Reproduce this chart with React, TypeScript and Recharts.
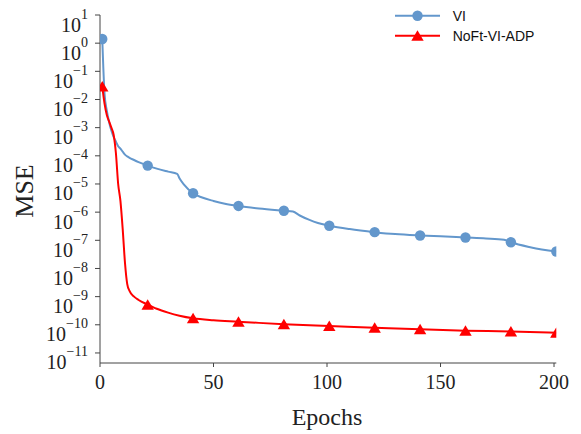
import React from 'react';
import { LineChart, Line, XAxis, YAxis, Legend, Label } from 'recharts';

// Epochs and MSE values
const viEpochs = [1, 2, 3, 4, 5, 6, 7, 8, 9, 10, 11, 12, 13, 15, 17, 21, 25, 30, 34, 35, 37, 41, 45, 50, 55, 61, 70, 81, 85, 88, 92, 96, 101, 110, 121, 130, 141, 150, 161, 170, 178, 181, 190, 201];
const viMse = [1.4, 1.6e-2, 4.0e-3, 1.6e-3, 7.9e-4, 4.7e-4, 3.2e-4, 2.2e-4, 1.8e-4, 1.4e-4, 1.1e-4, 9.5e-5, 8.5e-5, 7.1e-5, 6.0e-5, 4.5e-5, 3.5e-5, 2.75e-5, 2.3e-5, 1.6e-5, 9.5e-6, 4.7e-6, 3.3e-6, 2.5e-6, 2.0e-6, 1.66e-6, 1.35e-6, 1.12e-6, 1.05e-6, 7.6e-7, 5.4e-7, 4.1e-7, 3.3e-7, 2.5e-7, 1.95e-7, 1.66e-7, 1.48e-7, 1.38e-7, 1.26e-7, 1.17e-7, 1.05e-7, 8.5e-8, 5.6e-8, 4.0e-8];

const adpEpochs = [1, 2, 3, 4, 5, 6, 7, 8, 9, 10, 11, 12, 13, 15, 17, 21, 25, 30, 35, 41, 50, 61, 70, 81, 101, 121, 141, 161, 181, 201];
const adpMse = [2.9e-2, 7.1e-3, 2.8e-3, 1.66e-3, 1.0e-3, 5.6e-4, 1.26e-4, 1.0e-5, 2.5e-6, 2.5e-7, 1.6e-8, 2.8e-9, 1.6e-9, 1.0e-9, 7.6e-10, 5.2e-10, 3.7e-10, 2.7e-10, 2.1e-10, 1.7e-10, 1.45e-10, 1.29e-10, 1.17e-10, 1.05e-10, 9.1e-11, 7.9e-11, 6.9e-11, 6.2e-11, 5.8e-11, 5.2e-11];

const markerEpochs = [1, 21, 41, 61, 81, 101, 121, 141, 161, 181, 201];
const xTicks = [0, 50, 100, 150, 200];
const yTickExponents = [1, 0, -1, -2, -3, -4, -5, -6, -7, -8, -9, -10, -11];
const seriesNames = ['VI', 'NoFt-VI-ADP'];

const BLUE = '#6397CC';
const RED = '#FF0000';
const AXIS = '#444444';
const SERIF = '"Liberation Serif", "Times New Roman", serif';
const SANS = '"Liberation Sans", Arial, sans-serif';

const viData = viEpochs.map((e, i) => ({ epoch: e, mse: viMse[i] }));
const adpData = adpEpochs.map((e, i) => ({ epoch: e, mse: adpMse[i] }));
const yTicks = yTickExponents.map((p) => Math.pow(10, p));

const YTick = (props: any) => {
  const { x, y, payload } = props;
  const exp = Math.round(Math.log10(payload.value));
  const s = exp < 0 ? '\u2212' + Math.abs(exp) : String(exp);
  return (
    <text x={x} y={y + 16.5} textAnchor="end" fontFamily={SERIF} fontSize={20} fill="#222">
      <tspan>10</tspan>
      <tspan dy={-13} fontSize={14}>{s}</tspan>
    </text>
  );
};

const XTick = (props: any) => {
  const { x, y, payload } = props;
  return (
    <text x={x} y={y + 21.5} textAnchor="middle" fontFamily={SERIF} fontSize={20} fill="#222">
      {payload.value}
    </text>
  );
};

const CircleDot = (props: any) => {
  const { cx, cy, payload, index } = props;
  if (!markerEpochs.includes(payload.epoch)) return <g key={`c${index}`} />;
  return <circle key={`c${index}`} cx={cx} cy={cy} r={5.2} fill={BLUE} stroke="none" />;
};

const TriDot = (props: any) => {
  const { cx, cy, payload, index } = props;
  if (!markerEpochs.includes(payload.epoch)) return <g key={`t${index}`} />;
  return (
    <polygon
      key={`t${index}`}
      points={`${cx},${cy - 5.5} ${cx - 6.2},${cy + 5} ${cx + 6.2},${cy + 5}`}
      fill={RED}
      stroke="none"
    />
  );
};

const LegendContent = () => (
  <svg width={195} height={45} style={{ display: 'block' }}>
    <line x1={17} y1={7.7} x2={62} y2={7.7} stroke={BLUE} strokeWidth={2} />
    <circle cx={39.5} cy={7.7} r={5.2} fill={BLUE} />
    <text x={74.7} y={12.7} fontFamily={SANS} fontSize={14} fill="#111">{seriesNames[0]}</text>
    <line x1={17} y1={27.7} x2={62} y2={27.7} stroke={RED} strokeWidth={2} />
    <polygon points={`39.5,22.2 33.3,32.7 45.7,32.7`} fill={RED} />
    <text x={74.7} y={32.7} fontFamily={SANS} fontSize={14} fill="#111">{seriesNames[1]}</text>
  </svg>
);

export default function App() {
  return (
    <LineChart width={565} height={426} margin={{ top: 7, right: 16.7, left: 0, bottom: 0 }}>
      <XAxis
        dataKey="epoch"
        type="number"
        domain={[0, 201]}
        ticks={xTicks}
        tick={<XTick />}
        tickSize={4}
        tickMargin={0}
        height={71}
        stroke={AXIS}
        allowDataOverflow
      >
        <Label
          content={() => (
            <text x={319} y={417} textAnchor="middle" fontFamily={SERIF} fontSize={24} fill="#222">
              Epochs
            </text>
          )}
        />
      </XAxis>
      <YAxis
        type="number"
        scale="log"
        domain={[4.4e-12, 10]}
        ticks={yTicks}
        tick={<YTick />}
        tickSize={5}
        tickMargin={7}
        width={92}
        stroke={AXIS}
        allowDataOverflow
        interval={0}
      >
        <Label
          content={() => (
            <text
              x={25.3}
              y={183}
              textAnchor="middle"
              transform="rotate(-90, 25.3, 183)"
              fontFamily={SERIF}
              fontSize={26}
              fill="#222"
            >
              MSE
            </text>
          )}
        />
      </YAxis>
      <Legend
        layout="vertical"
        align="center"
        verticalAlign="middle"
        content={<LegendContent />}
        wrapperStyle={{ position: 'absolute', top: 0, left: 370, width: 195, height: 45 }}
      />
      <Line
        data={viData}
        dataKey="mse"
        name={seriesNames[0]}
        type="monotone"
        stroke={BLUE}
        strokeWidth={2}
        dot={<CircleDot />}
        activeDot={false}
        isAnimationActive={false}
      />
      <Line
        data={adpData}
        dataKey="mse"
        name={seriesNames[1]}
        type="monotone"
        stroke={RED}
        strokeWidth={2}
        dot={<TriDot />}
        activeDot={false}
        isAnimationActive={false}
      />
    </LineChart>
  );
}
